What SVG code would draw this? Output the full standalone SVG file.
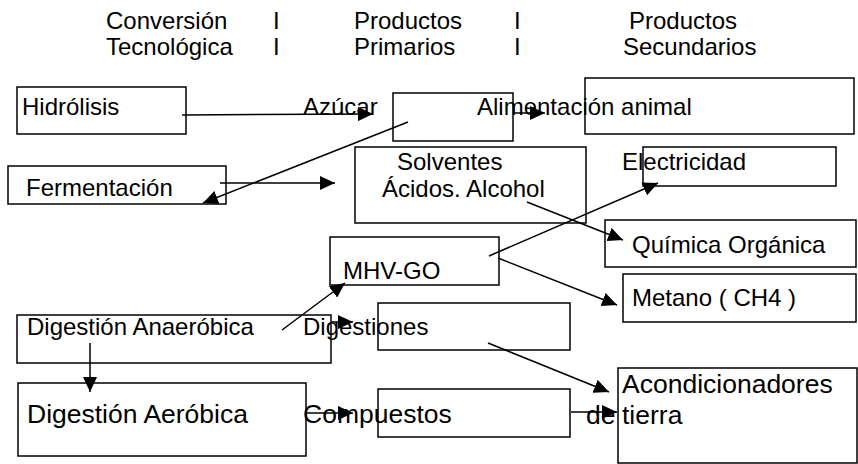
<svg xmlns="http://www.w3.org/2000/svg" width="858" height="464" viewBox="0 0 858 464">
  <style>
    text { font-family: "Liberation Sans", Arial, sans-serif; font-size: 24px; fill: #000; }
    .big { font-size: 26.5px; }
    .box { fill: none; stroke: #000; stroke-width: 1.5; }
    .conn line { stroke: #000; stroke-width: 1.5; marker-end: url(#arrow); }
  </style>
  <defs>
    <marker id="arrow" markerUnits="userSpaceOnUse" markerWidth="16" markerHeight="14" refX="15" refY="7" orient="auto">
      <path d="M0,0 L15,7 L0,14 z" fill="#000"/>
    </marker>
  </defs>
  <rect width="858" height="464" fill="#fff"/>

  <!-- column headings -->
  <g id="header">
    <text x="106" y="29">Conversión</text>
    <text x="106" y="55">Tecnológica</text>
    <text x="273" y="29">I</text>
    <text x="273" y="55">I</text>
    <text x="354" y="29">Productos</text>
    <text x="354" y="55">Primarios</text>
    <text x="514" y="29">I</text>
    <text x="514" y="55">I</text>
    <text x="629" y="29">Productos</text>
    <text x="623" y="55">Secundarios</text>
  </g>

  <g id="hidrolisis">
    <rect class="box" x="17" y="87" width="169" height="47"/>
    <text x="22" y="115">Hidrólisis</text>
  </g>
  <g id="azucar">
    <rect class="box" x="393" y="93" width="120" height="48"/>
    <text x="303" y="115">Azúcar</text>
  </g>
  <g id="alimentacion">
    <rect class="box" x="585" y="78" width="269" height="56"/>
    <text x="477" y="115">Alimentación animal</text>
  </g>
  <g id="fermentacion">
    <rect class="box" x="8" y="166" width="218" height="38"/>
    <text x="26" y="196">Fermentación</text>
  </g>
  <g id="solventes">
    <rect class="box" x="355" y="147" width="231" height="76"/>
    <text x="397" y="170">Solventes</text>
    <text x="382" y="197">Ácidos. Alcohol</text>
  </g>
  <g id="electricidad">
    <rect class="box" x="643" y="147" width="193" height="39"/>
    <text x="622" y="170">Electricidad</text>
  </g>
  <g id="quimica">
    <rect class="box" x="605" y="220" width="251" height="47"/>
    <text x="632" y="253">Química Orgánica</text>
  </g>
  <g id="mhv-go">
    <rect class="box" x="330" y="237" width="169" height="48"/>
    <text x="343" y="279">MHV-GO</text>
  </g>
  <g id="metano">
    <rect class="box" x="623" y="274" width="233" height="48"/>
    <text x="632" y="306">Metano ( CH4 )</text>
  </g>
  <g id="anaerobica">
    <rect class="box" x="17" y="315" width="314" height="48"/>
    <text x="27" y="335">Digestión Anaeróbica</text>
  </g>
  <g id="digestiones">
    <rect class="box" x="378" y="303" width="192" height="47"/>
    <text x="303" y="335">Digestiones</text>
  </g>
  <g id="aerobica">
    <rect class="box" x="18" y="383" width="288" height="73"/>
    <text class="big" x="27" y="423">Digestión Aeróbica</text>
  </g>
  <g id="compuestos">
    <rect class="box" x="378" y="389" width="192" height="48"/>
    <text class="big" x="303" y="423">Compuestos</text>
  </g>
  <g id="acondicionadores">
    <rect class="box" x="618" y="368" width="239" height="95"/>
    <text class="big" x="622" y="393">Acondicionadores</text>
    <text class="big" x="586" y="424">de</text>
    <text class="big" x="622" y="424">tierra</text>
  </g>

  <!-- connectors -->
  <g id="connectors" class="conn">
    <line x1="182" y1="115" x2="373" y2="114"/>
    <line x1="513" y1="113" x2="545" y2="113"/>
    <line x1="408" y1="122" x2="203" y2="203"/>
    <line x1="220" y1="183" x2="335" y2="183"/>
    <line x1="527" y1="202" x2="623" y2="240"/>
    <line x1="489" y1="256" x2="658" y2="183"/>
    <line x1="498" y1="258" x2="617" y2="305"/>
    <line x1="282" y1="330" x2="345" y2="283"/>
    <line x1="331" y1="322" x2="353" y2="322"/>
    <line x1="90" y1="343" x2="90" y2="392"/>
    <line x1="488" y1="343" x2="609" y2="392"/>
    <line x1="306" y1="413" x2="353" y2="413"/>
    <line x1="571" y1="412" x2="617" y2="412"/>
  </g>
</svg>
